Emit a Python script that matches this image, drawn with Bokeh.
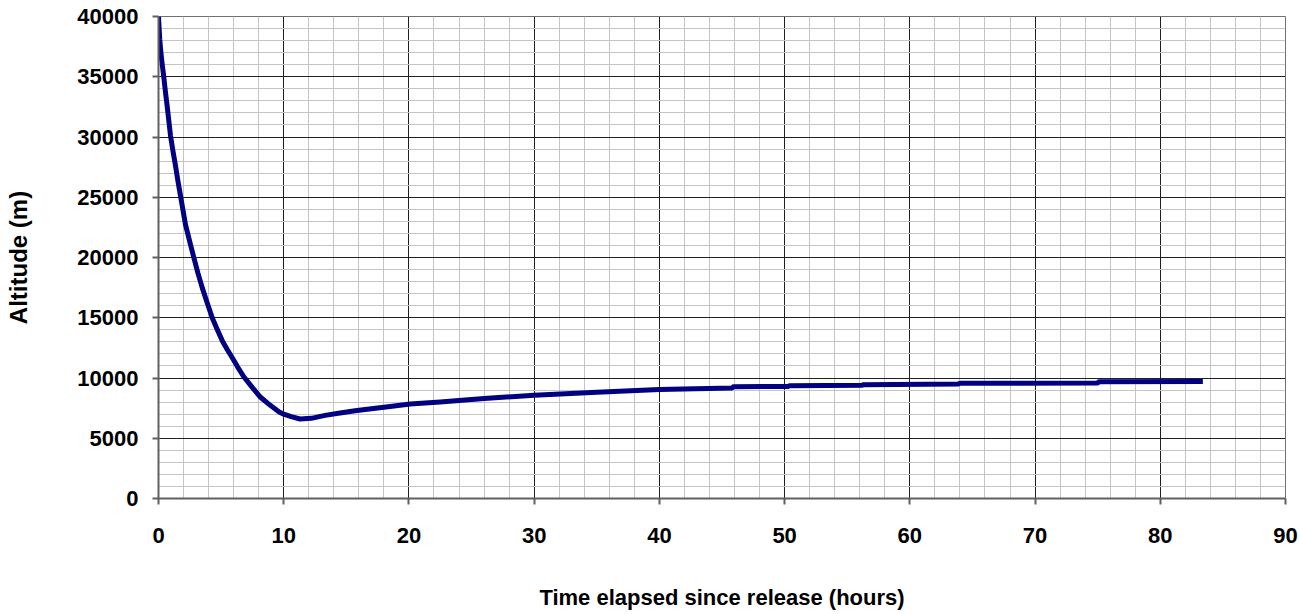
from bokeh.plotting import figure
from bokeh.models import FixedTicker, Range1d, NumeralTickFormatter
from bokeh.embed import file_html
from bokeh.resources import INLINE

# Data
time_hours = [0, 0.05, 0.1, 0.2, 0.3, 0.42, 0.56, 0.7, 0.96, 1.16, 1.36, 1.56, 1.76,
              2.16, 2.5, 2.82, 3.15, 3.49, 3.9, 4.29, 4.7, 5.09, 5.5, 5.88, 6.3,
              6.81, 7.5, 8.15, 8.9, 9.61, 10.0, 10.6, 11.3, 12.2, 13.3, 14.5, 15.7,
              17.0, 18.5, 20.1, 22.5, 26.0, 30.0, 35.0, 40.0, 45.8, 45.9, 50.3, 50.4,
              56.2, 56.3, 63.9, 64.0, 75.0, 75.1, 83.4]
altitude_m = [40000, 39000, 38100, 36900, 36000, 35000, 33700, 32500, 30100, 28800,
              27600, 26300, 25100, 22700, 21300, 20000, 18700, 17500, 16200, 15000,
              14000, 13100, 12350, 11700, 10950, 10100, 9200, 8400, 7750, 7200, 7000,
              6800, 6600, 6650, 6900, 7100, 7280, 7450, 7640, 7840, 8000, 8300, 8560,
              8820, 9050, 9170, 9270, 9300, 9360, 9400, 9450, 9500, 9570, 9580, 9690,
              9700]

x_major = [0, 10, 20, 30, 40, 50, 60, 70, 80, 90]
x_minor = [v for v in range(0, 91, 2)]
y_major = [0, 5000, 10000, 15000, 20000, 25000, 30000, 35000, 40000]
y_minor = [v for v in range(0, 40001, 1000)]

FONT = "Liberation Sans"

p = figure(width=1298, height=612, output_backend="svg", toolbar_location=None,
           x_range=Range1d(0, 90), y_range=Range1d(0, 40000),
           min_border_left=158, min_border_right=13, min_border_top=16,
           min_border_bottom=110)

p.line(time_hours, altitude_m, line_color="#000080", line_width=5,
       line_join="round")

p.xaxis.ticker = FixedTicker(ticks=x_major, minor_ticks=x_minor)
p.yaxis.ticker = FixedTicker(ticks=y_major, minor_ticks=y_minor)
p.yaxis.formatter = NumeralTickFormatter(format="0")

for ax in (p.xaxis[0], p.yaxis[0]):
    ax.major_label_text_font = FONT
    ax.major_label_text_font_style = "bold"
    ax.major_label_text_font_size = "22px"
    ax.major_label_text_color = "#000000"
    ax.axis_label_text_font = FONT
    ax.axis_label_text_font_style = "bold"
    ax.axis_label_text_font_size = "22px"
    ax.axis_label_text_color = "#000000"
    ax.axis_line_color = "#606060"
    ax.axis_line_width = 2
    ax.major_tick_line_color = "#606060"
    ax.major_tick_line_width = 2
    ax.major_tick_in = 0
    ax.major_tick_out = 6
    ax.minor_tick_in = 0
    ax.minor_tick_out = 0

p.yaxis.axis_label_text_font_size = "24px"
p.xaxis.axis_label = "Time elapsed since release (hours)"
p.yaxis.axis_label = "Altitude (m)"
p.xaxis.major_label_standoff = 23
p.xaxis.axis_label_standoff = 39
p.yaxis.major_label_standoff = 14
p.yaxis.axis_label_standoff = 42

for g in (p.xgrid[0], p.ygrid[0]):
    g.grid_line_color = "#202020"
    g.grid_line_width = 1
    g.minor_grid_line_color = "#c4c4c4"
    g.minor_grid_line_width = 1

p.outline_line_color = "#707070"
p.outline_line_width = 1
p.background_fill_color = "white"
p.border_fill_color = "white"

open("out.html", "w").write(file_html(p, INLINE))
